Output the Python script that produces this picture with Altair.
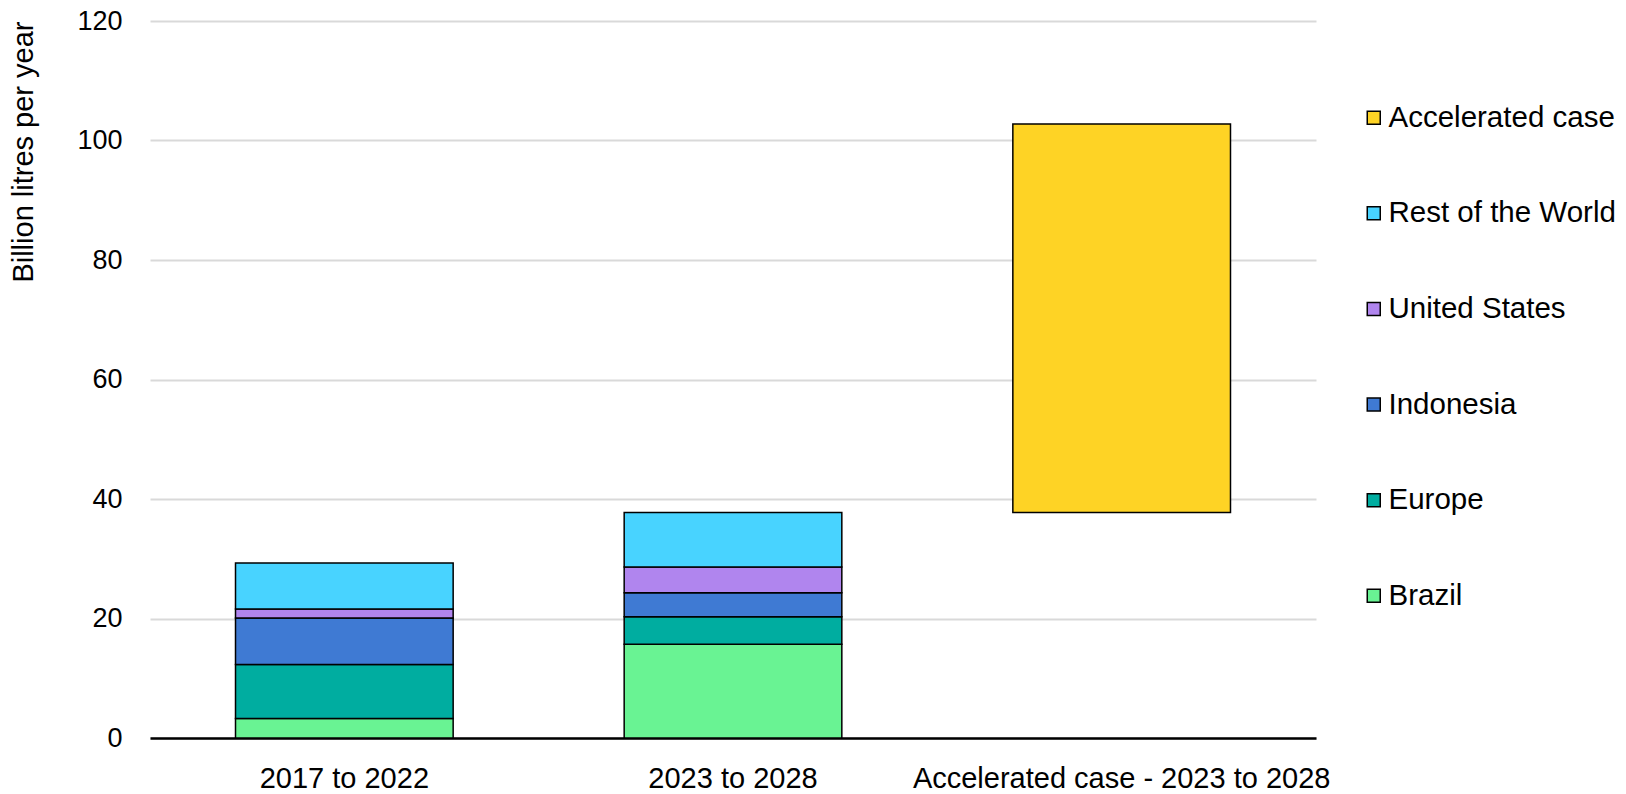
import altair as alt
import pandas as pd

# Biofuel demand growth by region, billion litres per year
categories = ["2017 to 2022", "2023 to 2028", "Accelerated case - 2023 to 2028"]
regions = ["Brazil", "Europe", "Indonesia", "United States", "Rest of the World"]
brazil = [3.25, 15.7]
europe = [9.05, 4.6]
indonesia = [7.8, 4.0]
united_states = [1.5, 4.3]
rest_of_world = [7.7, 9.15]
accelerated_extra = 65.0

legend_order = ["Accelerated case", "Rest of the World", "United States",
                "Indonesia", "Europe", "Brazil"]
legend_colors = ["#FED325", "#48D3FF", "#B085EE", "#3F7AD3", "#00ADA0", "#69F393"]

# Build stacked segments (y0 -> y1) for the two main periods
series = [brazil, europe, indonesia, united_states, rest_of_world]
rows = []
for i, cat in enumerate(categories[:2]):
    base = 0.0
    for name, vals in zip(regions, series):
        rows.append({"category": cat, "series": name, "y0": base, "y1": base + vals[i]})
        base += vals[i]
# The accelerated case floats on top of the 2023-2028 total
base_2028 = sum(v[1] for v in series)
rows.append({"category": categories[2], "series": "Accelerated case",
             "y0": base_2028, "y1": base_2028 + accelerated_extra})
df = pd.DataFrame(rows)

FONT = "Liberation Sans"

chart = alt.Chart(df).mark_bar(stroke="black", strokeWidth=1.5).encode(
    x=alt.X("category:N", sort=categories, title=None,
            scale=alt.Scale(paddingInner=0.44, paddingOuter=0.22),
            axis=alt.Axis(labelAngle=0, labelFontSize=29, labelColor="black",
                          labelFont=FONT, labelPadding=26, labelLimit=0, ticks=False,
                          domainColor="black", domainWidth=2.5)),
    y=alt.Y("y0:Q", title="Billion litres per year",
            scale=alt.Scale(domain=[0, 120], nice=False),
            axis=alt.Axis(values=[0, 20, 40, 60, 80, 100, 120], domain=False, ticks=False,
                          labelFontSize=27, labelColor="black", labelFont=FONT,
                          labelPadding=28, gridColor="#D9D9D9", gridWidth=2,
                          titleFontSize=29, titleFont=FONT, titleFontWeight="normal",
                          titleColor="black", titleAngle=270, titleAlign="right",
                          titleBaseline="middle", titleX=-127, titleY=0)),
    y2="y1:Q",
    color=alt.Color("series:N",
                    scale=alt.Scale(domain=legend_order, range=legend_colors),
                    legend=alt.Legend(title=None, orient="none", legendX=1209, legendY=82,
                                      padding=0, symbolType="square", symbolSize=169,
                                      symbolStrokeColor="black", symbolStrokeWidth=1.5,
                                      labelFontSize=29.5, labelFont=FONT, labelColor="black",
                                      labelLimit=0, labelOffset=0, rowPadding=64.6)),
).properties(
    width=1166,
    height=717,
    autosize=alt.AutoSizeParams(type="none"),
    padding={"left": 150, "top": 21, "right": 310, "bottom": 56},
).configure_view(stroke=None)

chart.save("out.html", embed_options={"renderer": "svg", "actions": False})
